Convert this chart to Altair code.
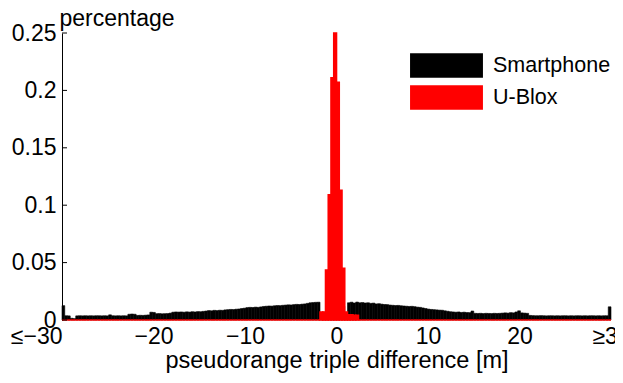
import altair as alt
import pandas as pd

# ---------------- data ----------------
bin_width = 0.3
n_bins = 200
bin_start = [round(-30 + bin_width * i, 1) for i in range(n_bins)]
bin_end = [round(s + bin_width, 1) for s in bin_start]

# Smartphone histogram (percentage per bin)
smartphone = [
    0.0125, 0.0037, 0.0036, 0.0015, 0.0012, 0.0036, 0.0037, 0.0036, 0.0037, 0.0036,
    0.0037, 0.0036, 0.0037, 0.0037, 0.0036, 0.0037, 0.0036, 0.0045, 0.0037, 0.0036,
    0.0037, 0.0036, 0.0037, 0.0036, 0.0050, 0.0052, 0.0050, 0.0040, 0.0041, 0.0040,
    0.0042, 0.0044, 0.0068, 0.0066, 0.0055, 0.0056, 0.0054, 0.0055, 0.0056, 0.0060,
    0.0068, 0.0070, 0.0069, 0.0070, 0.0068, 0.0071, 0.0069, 0.0072, 0.0070, 0.0073,
    0.0072, 0.0075, 0.0078, 0.0082, 0.0080, 0.0084, 0.0082, 0.0085, 0.0084, 0.0088,
    0.0090, 0.0092, 0.0091, 0.0094, 0.0096, 0.0100, 0.0103, 0.0108, 0.0110, 0.0109,
    0.0112, 0.0110, 0.0114, 0.0118, 0.0120, 0.0122, 0.0121, 0.0124, 0.0126, 0.0125,
    0.0128, 0.0130, 0.0132, 0.0131, 0.0134, 0.0136, 0.0135, 0.0138, 0.0140, 0.0145,
    0.0150, 0.0152, 0.0154, 0.0155, 0.0060, 0.0060, 0.0120, 0.0120, 0.0120, 0.0120,
    0.0120, 0.0120, 0.0120, 0.0060, 0.0150, 0.0155, 0.0148, 0.0156, 0.0150, 0.0152,
    0.0148, 0.0150, 0.0145, 0.0147, 0.0140, 0.0142, 0.0138, 0.0135, 0.0134, 0.0130,
    0.0128, 0.0126, 0.0127, 0.0124, 0.0122, 0.0120, 0.0118, 0.0119, 0.0116, 0.0112,
    0.0110, 0.0105, 0.0100, 0.0095, 0.0092, 0.0090, 0.0088, 0.0086, 0.0085, 0.0080,
    0.0076, 0.0072, 0.0070, 0.0068, 0.0070, 0.0066, 0.0068, 0.0065, 0.0064, 0.0078,
    0.0058, 0.0057, 0.0058, 0.0056, 0.0058, 0.0057, 0.0056, 0.0058, 0.0057, 0.0058,
    0.0060, 0.0062, 0.0060, 0.0064, 0.0062, 0.0070, 0.0080, 0.0062, 0.0060, 0.0058,
    0.0040, 0.0038, 0.0037, 0.0037, 0.0038, 0.0037, 0.0036, 0.0037, 0.0037, 0.0036,
    0.0037, 0.0036, 0.0037, 0.0037, 0.0036, 0.0037, 0.0036, 0.0037, 0.0037, 0.0036,
    0.0037, 0.0036, 0.0037, 0.0037, 0.0036, 0.0037, 0.0036, 0.0037, 0.0037, 0.0115,
]

# U-Blox histogram (percentage per bin)
ublox_center = [0.007, 0.007, 0.0435, 0.109, 0.211, 0.250, 0.207, 0.113,
                0.045, 0.007, 0.0045, 0.0045, 0.004, 0.004]
ublox = [0.0] * 94 + ublox_center + [0.0] * (n_bins - 94 - len(ublox_center))

y_ticks = [0, 0.05, 0.1, 0.15, 0.2, 0.25]
x_ticks = [-30, -20, -10, 0, 10, 20, 30]
series_names = ["Smartphone", "U-Blox"]
series_colors = ["#000000", "#ff0000"]

df = pd.DataFrame({
    "x0": bin_start * 2,
    "x1": bin_end * 2,
    "pct": smartphone + ublox,
    "series": ["Smartphone"] * n_bins + ["U-Blox"] * n_bins,
})
ticks_df = pd.DataFrame({"pct": y_ticks})

FONT = "Liberation Sans"

x_axis = alt.Axis(
    values=x_ticks,
    title="pseudorange triple difference [m]",
    labelExpr="datum.value <= -30 ? '≤−30' : (datum.value >= 30 ? '≥30' : replace(toString(datum.value), '-', '−'))",
    labelAlign={"condition": {"test": "datum.value <= -30", "value": "right"}, "value": "center"},
    domain=False,
    ticks=False,
    grid=False,
    labelPadding=5,
    titlePadding=0,
    labelFontSize=23,
    titleFontSize=23.5,
)
y_axis = alt.Axis(
    values=y_ticks,
    format="~g",
    title="percentage",
    titleAngle=0,
    titleAlign="left",
    titleBaseline="alphabetic",
    titleX=-3,
    titleY=-8,
    titleFontSize=23,
    labelFontSize=23,
    domain=True,
    domainColor="black",
    ticks=False,
    grid=False,
    labelPadding=6,
)

x_enc = alt.X("x0:Q", scale=alt.Scale(domain=[-30, 30], nice=False, zero=False), axis=x_axis)
y_enc = alt.Y("pct:Q", scale=alt.Scale(domain=[0, 0.25], nice=False), axis=y_axis)

sym_h = 24.3
color_enc = alt.Color(
    "series:N",
    scale=alt.Scale(domain=series_names, range=series_colors),
    legend=alt.Legend(
        title=None,
        orient="none",
        legendX=372,
        legendY=20,
        direction="vertical",
        symbolType="M-3,-1H3V1H-3Z",
        symbolSize=sym_h * sym_h,
        symbolStrokeWidth=0,
        symbolOpacity=1,
        labelFontSize=21.5,
        labelFont=FONT,
        labelOffset=34,
        rowPadding=7,
        padding=0,
    ),
)

black = alt.Chart(df).transform_filter("datum.series == 'Smartphone'").mark_rect(
    stroke="#000000", strokeWidth=0.6
).encode(x=x_enc, x2="x1:Q", y=y_enc, y2=alt.datum(0), color=color_enc)

red = alt.Chart(df).transform_filter("datum.series == 'U-Blox'").mark_rect(
    stroke="#ff0000", strokeWidth=1.6
).encode(x=x_enc, x2="x1:Q", y=y_enc, y2=alt.datum(0), color=color_enc)

inner_ticks = alt.Chart(ticks_df).mark_rule(color="black", strokeWidth=1).encode(
    y=y_enc, x=alt.value(0), x2=alt.value(5)
)

chart = alt.layer(black, red, inner_ticks).properties(
    width=549,
    height=287,
    autosize=alt.AutoSizeParams(type="none"),
    padding={"left": 54, "top": 25, "right": 4, "bottom": 55},
).configure_view(stroke=None).configure_axis(
    labelFont=FONT, titleFont=FONT,
    labelColor="black", titleColor="black", titleFontWeight="normal",
).configure_legend(labelColor="black")

chart.save("out.html", embed_options={"renderer": "svg", "actions": False})
